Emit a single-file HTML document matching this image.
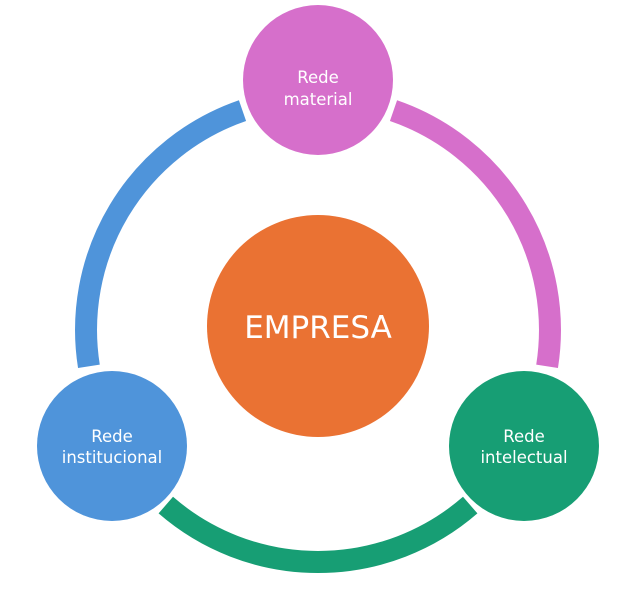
<!DOCTYPE html>
<html><head><meta charset="utf-8"><style>
html,body{margin:0;padding:0;background:#fff;}
svg{display:block;}
text{font-family:"DejaVu Sans","Liberation Sans",sans-serif;fill:#fff;}
</style></head><body>
<svg width="636" height="606" viewBox="0 0 636 606" xmlns="http://www.w3.org/2000/svg">
<g fill="none" stroke-width="22">
<path d="M88.9 366.3 A232 232 0 0 1 242.5 110.6" stroke="#4F94DA"/>
<path d="M393.5 110.6 A232 232 0 0 1 547.1 366.3" stroke="#D66FCB"/>
<path d="M470.2 505.1 A232 232 0 0 1 165.8 505.1" stroke="#179E74"/>
</g>
<circle cx="318" cy="80" r="75" fill="#D66FCB"/>
<circle cx="112" cy="446" r="75" fill="#4F94DA"/>
<circle cx="524" cy="446" r="75" fill="#179E74"/>
<circle cx="318" cy="326" r="111" fill="#EA7233"/>
<g font-size="16.5" text-anchor="middle">
<text x="318" y="83">Rede</text><text x="318" y="105">material</text>
<text x="112" y="442">Rede</text><text x="112" y="463">institucional</text>
<text x="524" y="442">Rede</text><text x="524" y="463">intelectual</text>
</g>
<text x="318" y="338" font-size="31" text-anchor="middle">EMPRESA</text>
</svg>
</body></html>
